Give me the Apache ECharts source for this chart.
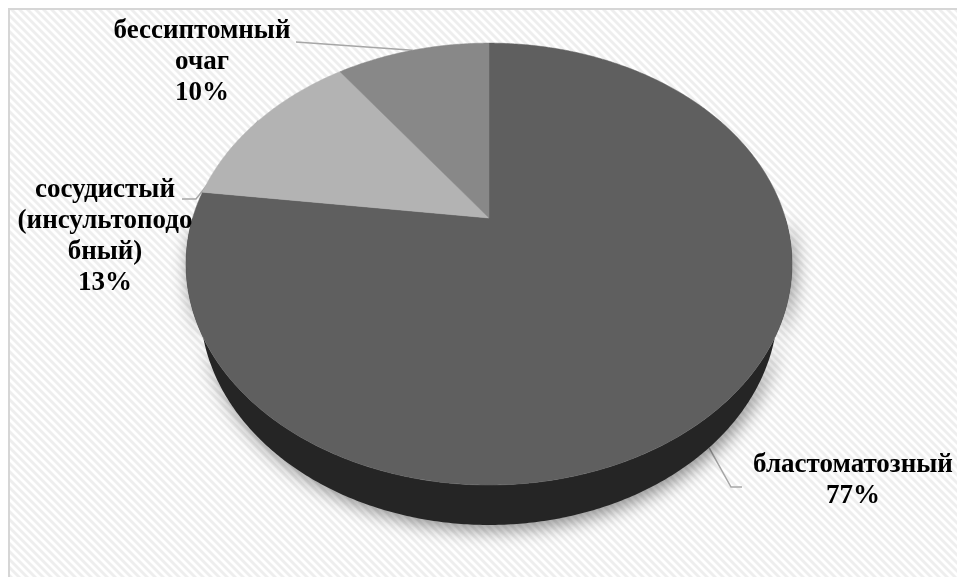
<!DOCTYPE html>
<html>
<head>
<meta charset="utf-8">
<script src="https://cdn.jsdelivr.net/npm/echarts@6/dist/echarts.min.js"></script>
<style>
  html, body { margin: 0; padding: 0; background: #ffffff; }
  #chart { width: 957px; height: 577px; }
</style>
</head>
<body>
<div id="chart"></div>
<script>
// Categories and shares (percent), clockwise from 12 o'clock
const categories = ['бластоматозный', 'сосудистый (инсультоподобный)', 'бессиптомный очаг'];
const values = [77, 13, 10];
// Wrapped label lines for each category
const labelLines = [
  ['бластоматозный'],
  ['сосудистый', '(инсультоподо', 'бный)'],
  ['бессиптомный', 'очаг']
];

// Styling
const topColors = ['#5f5f5f', '#b3b3b3', '#888888'];
const sideColors = ['#252525', '#4a4a4a', '#3a3a3a'];
const leaderColor = '#a6a6a6';
const FONT = '"Liberation Serif", "Times New Roman", serif';

// Label placement (text block centres) and the elbow of each leader line
const labelAnchor = [[853, 481], [105, 237], [202, 62]];
const leaderElbow = [
  [[742, 487], [731, 487]],
  [[182, 199], [196, 199]],
  [[296, 42]]
];

// Perspective camera for the tilted 3D disc
const PIE = { cx: 489, cy: 218, focal: 996.6, dist: 3.363, tilt: 45.5, depth: 0.2216 };

function project(X, Y, Z) {
  const a = PIE.tilt * Math.PI / 180;
  const d = PIE.dist + Y * Math.cos(a) - Z * Math.sin(a);
  const up = Y * Math.sin(a) + Z * Math.cos(a);
  return [PIE.cx + PIE.focal * X / d, PIE.cy - PIE.focal * up / d];
}
// psi: clockwise angle from 12 o'clock, degrees
function rim(psi, Z) {
  const r = psi * Math.PI / 180;
  return project(Math.sin(r), Math.cos(r), Z);
}

const total = values.reduce((s, v) => s + v, 0);
const spans = [];
{
  let acc = 0;
  values.forEach(v => {
    const a0 = acc / total * 360;
    acc += v;
    spans.push([a0, acc / total * 360]);
  });
}

function arc(a0, a1, Z) {
  const pts = [];
  const n = Math.max(2, Math.ceil((a1 - a0) / 0.5));
  for (let k = 0; k <= n; k++) pts.push(rim(a0 + (a1 - a0) * k / n, Z));
  return pts;
}

// Diagonal stripe texture for the plot background
function stripePattern() {
  const c = document.createElement('canvas');
  c.width = 8; c.height = 8;
  const g = c.getContext('2d');
  const img = g.createImageData(8, 8);
  for (let y = 0; y < 8; y++) {
    for (let x = 0; x < 8; x++) {
      const m = ((x - y) % 8 + 8) % 8;
      let v = 255;
      if (m === 0 || m === 4) v = 246;
      else if (m < 4) v = 238;
      const i = (y * 8 + x) * 4;
      img.data[i] = img.data[i + 1] = img.data[i + 2] = v;
      img.data[i + 3] = 255;
    }
  }
  g.putImageData(img, 0, 0);
  return c;
}

const seriesData = values.map((v, i) => ({ name: categories[i], value: v }));

const chart = echarts.init(document.getElementById('chart'), null, { renderer: 'canvas' });

chart.setOption({
  animation: false,
  backgroundColor: '#ffffff',
  graphic: [{
    type: 'rect',
    z: -10,
    shape: { x: 9, y: 9, width: 980, height: 600 },
    style: { fill: { image: stripePattern(), repeat: 'repeat' }, stroke: '#d6d6d6', lineWidth: 2 }
  }],
  series: [
    {
      // leader lines, drawn beneath the disc
      type: 'custom', coordinateSystem: 'none', z: 1, data: seriesData,
      renderItem: function (params) {
        const i = params.dataIndex;
        const [a0, a1] = spans[i];
        const mid = (a0 + a1) / 2;
        const front = mid > 90 && mid < 270;
        const end = rim(mid, front ? -PIE.depth : 0);
        return {
          type: 'polyline',
          shape: { points: leaderElbow[i].concat([end]) },
          style: { stroke: leaderColor, lineWidth: 1.5, fill: null }
        };
      }
    },
    {
      // visible outer wall of each slice
      type: 'custom', coordinateSystem: 'none', z: 2, data: seriesData,
      renderItem: function (params) {
        const i = params.dataIndex;
        const a0 = Math.max(spans[i][0], 90), a1 = Math.min(spans[i][1], 270);
        if (a1 <= a0) return { type: 'group', children: [] };
        const pts = arc(a0, a1, 0).concat(arc(a0, a1, -PIE.depth).reverse());
        return {
          type: 'polygon',
          shape: { points: pts },
          style: {
            fill: sideColors[i],
            shadowBlur: 18, shadowColor: 'rgba(0,0,0,0.45)',
            shadowOffsetX: 3, shadowOffsetY: 5
          }
        };
      }
    },
    {
      // top faces
      type: 'custom', coordinateSystem: 'none', z: 3, data: seriesData,
      renderItem: function (params) {
        const i = params.dataIndex;
        const [a0, a1] = spans[i];
        const pts = [project(0, 0, 0)].concat(arc(a0, a1, 0));
        return {
          type: 'polygon',
          shape: { points: pts },
          style: { fill: topColors[i], stroke: topColors[i], lineWidth: 0.5 }
        };
      }
    },
    {
      // category + percent labels
      type: 'custom', coordinateSystem: 'none', z: 4, data: seriesData,
      renderItem: function (params, api) {
        const i = params.dataIndex;
        const text = labelLines[i].concat([api.value(0) + '%']).join('\n');
        return {
          type: 'text',
          x: labelAnchor[i][0], y: labelAnchor[i][1],
          style: {
            text: text,
            fontFamily: FONT, fontWeight: 'bold', fontSize: 27,
            lineHeight: 31, fill: '#000000',
            align: 'center', verticalAlign: 'middle'
          }
        };
      }
    }
  ]
});
</script>
</body>
</html>
